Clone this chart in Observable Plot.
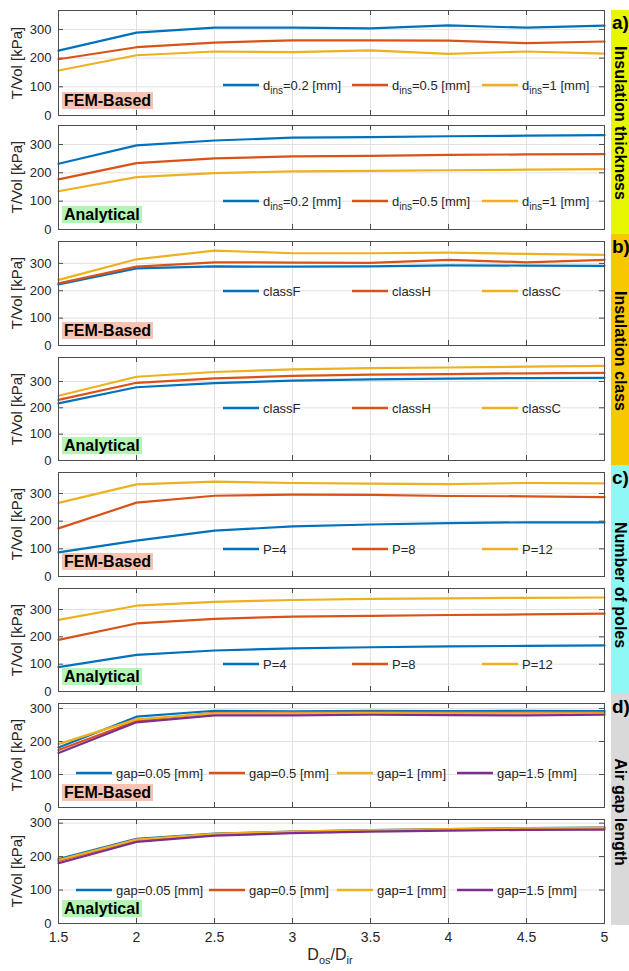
<!DOCTYPE html>
<html><head><meta charset="utf-8">
<script src="https://cdn.jsdelivr.net/npm/d3@7"></script>
<script src="https://cdn.jsdelivr.net/npm/@observablehq/plot@0.6"></script>
<style>
body{margin:0;background:#fff;}
#root{position:relative;width:629px;height:971px;font-family:"Liberation Sans",Arial,sans-serif;color:#262626;overflow:hidden;}
.panel{position:absolute;left:0;}
.tag{position:absolute;left:62px;height:17px;line-height:17px;padding:0 2px;font-weight:bold;font-size:16px;color:#000;}
.leg{position:absolute;display:flex;align-items:center;height:18px;font-size:13px;white-space:nowrap;color:#262626;}
.leg svg{margin-right:4px;}
.leg sub{font-size:10px;vertical-align:-4px;line-height:0;}
.strip{position:absolute;left:611px;width:18px;}
.slab{position:absolute;left:612px;font-weight:bold;font-size:19px;color:#000;line-height:19px;}
.vlab{position:absolute;left:611px;width:18px;writing-mode:vertical-rl;font-weight:bold;font-size:16px;line-height:18px;color:#000;transform:translateY(-50%);white-space:nowrap;}
.ylab{position:absolute;left:9px;width:16px;writing-mode:vertical-rl;font-size:15px;line-height:16px;color:#262626;transform:translateY(-50%) rotate(180deg);white-space:nowrap;}
#xlab{position:absolute;top:946px;left:0;width:660px;text-align:center;font-size:16px;color:#262626;}
#xlab sub{font-size:11px;}
</style></head>
<body><div id="root"></div>
<script>
// ---------- data ----------
const dosDir = [1.5, 2, 2.5, 3, 3.5, 4, 4.5, 5];
const yTicks = [0, 100, 200, 300];

// a) Insulation thickness
const thickFEM_d02 = [226, 289, 306, 306, 304, 314, 306, 313];
const thickFEM_d05 = [196, 238, 254, 262, 262, 261, 252, 258];
const thickFEM_d1  = [157, 210, 223, 221, 227, 215, 223, 216];
const thickAna_d02 = [232, 297, 314, 324, 326, 329, 331, 333];
const thickAna_d05 = [177, 234, 251, 258, 260, 263, 265, 266];
const thickAna_d1  = [135, 185, 199, 205, 207, 209, 211, 213];
// b) Insulation class
const classFEM_F = [223, 282, 289, 288, 289, 293, 292, 291];
const classFEM_H = [227, 288, 304, 303, 302, 313, 304, 313];
const classFEM_C = [240, 315, 347, 337, 337, 339, 335, 331];
const classAna_F = [217, 278, 294, 303, 308, 311, 313, 314];
const classAna_H = [230, 295, 312, 321, 326, 328, 331, 333];
const classAna_C = [246, 318, 336, 346, 351, 353, 356, 359];
// c) Number of poles
const polesFEM_4  = [87, 130, 166, 181, 188, 193, 196, 196];
const polesFEM_8  = [174, 267, 292, 296, 295, 291, 290, 287];
const polesFEM_12 = [266, 333, 343, 338, 336, 334, 338, 337];
const polesAna_4  = [89, 134, 150, 158, 162, 165, 167, 169];
const polesAna_8  = [189, 249, 266, 274, 277, 280, 282, 285];
const polesAna_12 = [262, 314, 328, 335, 339, 341, 343, 344];
// d) Air gap length
const gapFEM_005 = [182, 275, 293, 291, 293, 292, 293, 292];
const gapFEM_05  = [174, 262, 287, 289, 290, 289, 288, 289];
const gapFEM_1   = [192, 267, 285, 285, 286, 285, 285, 285];
const gapFEM_15  = [165, 258, 279, 279, 281, 280, 279, 281];
const gapAna_005 = [193, 253, 269, 275, 279, 282, 285, 287];
const gapAna_05  = [187, 250, 267, 274, 278, 281, 284, 286];
const gapAna_1   = [190, 251, 268, 275, 279, 282, 285, 286];
const gapAna_15  = [180, 244, 263, 270, 275, 278, 280, 281];

const thickNames = ["d<sub>ins</sub>=0.2 [mm]", "d<sub>ins</sub>=0.5 [mm]", "d<sub>ins</sub>=1 [mm]"];
const classNames = ["classF", "classH", "classC"];
const polesNames = ["P=4", "P=8", "P=12"];
const gapNames = ["gap=0.05 [mm]", "gap=0.5 [mm]", "gap=1 [mm]", "gap=1.5 [mm]"];
const methodNames = ["FEM-Based", "Analytical"];
const groupTitles = ["Insulation thickness", "Insulation class", "Number of poles", "Air gap length"];
const groupTags = ["a)", "b)", "c)", "d)"];
const yLabel = "T/Vol [kPa]";

// ---------- styling / layout ----------
const colors = ["#0072BD", "#D95319", "#EDB120", "#7E2F8E"];
const tagColors = {"FEM-Based": "#f9c3b3", "Analytical": "#b3f6b3"};
const stripColors = ["#e6f700", "#f7c700", "#90f8f4", "#d9d9d9"];
const stripBounds = [[10, 234], [234, 465], [465, 694], [694, 925]];
const titleCenters = [123, 351, 585, 812];
const ML = 58, MR = 25, W = 629;

const panels = [
  {top: 10,  bottom: 115, ymax: 366, method: 0, names: thickNames, values: [thickFEM_d02, thickFEM_d05, thickFEM_d1], legY: 85,  legX: [223, 352, 482]},
  {top: 125, bottom: 229, ymax: 367, method: 1, names: thickNames, values: [thickAna_d02, thickAna_d05, thickAna_d1], legY: 201, legX: [223, 352, 482]},
  {top: 241, bottom: 345, ymax: 380, method: 0, names: classNames, values: [classFEM_F, classFEM_H, classFEM_C], legY: 291, legX: [223, 352, 482]},
  {top: 357, bottom: 460, ymax: 391, method: 1, names: classNames, values: [classAna_F, classAna_H, classAna_C], legY: 408, legX: [223, 352, 482]},
  {top: 472, bottom: 576, ymax: 376, method: 0, names: polesNames, values: [polesFEM_4, polesFEM_8, polesFEM_12], legY: 549, legX: [223, 352, 482]},
  {top: 588, bottom: 691, ymax: 377, method: 1, names: polesNames, values: [polesAna_4, polesAna_8, polesAna_12], legY: 664, legX: [223, 352, 482]},
  {top: 703, bottom: 807, ymax: 315, method: 0, names: gapNames, values: [gapFEM_005, gapFEM_05, gapFEM_1, gapFEM_15], legY: 773, legX: [76, 209, 337, 457]},
  {top: 819, bottom: 923, ymax: 311, method: 1, names: gapNames, values: [gapAna_005, gapAna_05, gapAna_1, gapAna_15], legY: 890, legX: [76, 209, 337, 457], xaxis: true}
];

const root = document.getElementById("root");

panels.forEach((p) => {
  const fh = p.bottom - p.top;
  const pw = W - ML - MR;
  const mt = 8, mb = p.xaxis ? 32 : 8;
  const keys = p.names.map((n, i) => "s" + i);
  const rows = p.values.flatMap((vals, si) => dosDir.map((x, i) => ({x, y: vals[i], k: keys[si]})));
  const xScale = p.xaxis
    ? {domain: [1.5, 5], ticks: dosDir, tickSize: 0, tickPadding: 9, tickFormat: d => String(d), label: null}
    : {domain: [1.5, 5], axis: null};
  const chart = Plot.plot({
    width: W, height: fh + mt + mb,
    marginLeft: ML, marginRight: MR, marginTop: mt, marginBottom: mb,
    style: {fontFamily: '"Liberation Sans", Arial, sans-serif', fontSize: "14px", color: "#262626", background: "transparent", overflow: "visible"},
    x: xScale,
    y: {domain: [0, p.ymax]},
    color: {domain: keys, range: colors.slice(0, keys.length)},
    marks: [
      Plot.gridX(dosDir, {stroke: "#e2e2e2", strokeOpacity: 1}),
      Plot.gridY(yTicks, {stroke: "#e2e2e2", strokeOpacity: 1}),
      Plot.axisY(yTicks, {tickSize: 0, tickPadding: 7, fontSize: 13, label: null, fill: "#262626"}),
      Plot.tickX(dosDir, {x: d => d, stroke: "#4d4d4d", insetBottom: fh - 5}),
      Plot.tickX(dosDir, {x: d => d, stroke: "#4d4d4d", insetTop: fh - 5}),
      Plot.tickY(yTicks, {y: d => d, stroke: "#4d4d4d", insetRight: pw - 5}),
      Plot.tickY(yTicks, {y: d => d, stroke: "#4d4d4d", insetLeft: pw - 5}),
      Plot.line(rows, {x: "x", y: "y", z: "k", stroke: "k", strokeWidth: 2.2}),
      Plot.frame({stroke: "#4d4d4d", strokeWidth: 1})
    ]
  });
  const wrap = document.createElement("div");
  wrap.className = "panel";
  wrap.style.top = (p.top - mt) + "px";
  wrap.appendChild(chart);
  root.appendChild(wrap);

  // y label
  const yl = document.createElement("div");
  yl.className = "ylab";
  yl.style.top = ((p.top + p.bottom) / 2) + "px";
  yl.textContent = yLabel;
  root.appendChild(yl);

  // method tag
  const mName = methodNames[p.method];
  const tag = document.createElement("div");
  tag.className = "tag";
  tag.textContent = mName;
  tag.style.background = tagColors[mName];
  tag.style.top = (p.bottom - 23) + "px";
  root.appendChild(tag);

  // legend
  p.names.forEach((n, i) => {
    const el = document.createElement("div");
    el.className = "leg";
    el.style.left = p.legX[i] + "px";
    el.style.top = (p.legY - 9) + "px";
    el.innerHTML = `<svg width="36" height="4"><line x1="0" x2="36" y1="2" y2="2" stroke="${colors[i]}" stroke-width="2.5"/></svg><span>${n}</span>`;
    root.appendChild(el);
  });
});

// right strip
groupTitles.forEach((t, g) => {
  const [a, b] = stripBounds[g];
  const s = document.createElement("div");
  s.className = "strip";
  s.style.top = a + "px";
  s.style.height = (b - a) + "px";
  s.style.background = stripColors[g];
  root.appendChild(s);
  const lab = document.createElement("div");
  lab.className = "slab";
  lab.style.top = (a + 3) + "px";
  lab.textContent = groupTags[g];
  root.appendChild(lab);
  const v = document.createElement("div");
  v.className = "vlab";
  v.style.top = titleCenters[g] + "px";
  v.textContent = t;
  root.appendChild(v);
});

// x label
const xl = document.createElement("div");
xl.id = "xlab";
xl.innerHTML = "D<sub>os</sub>/D<sub>ir</sub>";
root.appendChild(xl);
</script>
</body></html>
